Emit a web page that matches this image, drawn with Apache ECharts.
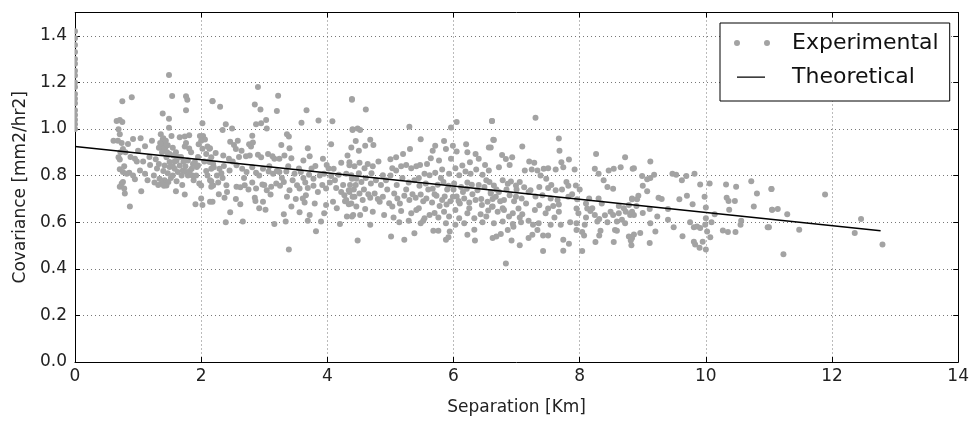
<!DOCTYPE html>
<html><head><meta charset="utf-8">
<script src="https://cdn.jsdelivr.net/npm/echarts@6/dist/echarts.min.js"></script>
<style>html,body{margin:0;padding:0;background:#fff}#c{width:972px;height:421px}</style>
</head><body><div id="c"></div>
<script>
// Axis ranges / ticks
const xRange = [0, 14], xStep = 2;
const yRange = [0, 1.5], yStep = 0.2;
const seriesNames = ['Experimental', 'Theoretical'];

// Experimental covariance at zero separation
const expAtZero = [[0,1.42],[0,1.39],[0,1.36],[0,1.33],[0,1.30],[0,1.28],[0,1.25],[0,1.23],[0,1.20],[0,1.18],[0,1.15],[0,1.13],[0,1.11],[0,1.08],[0,1.06],[0,1.04],[0,1.02],[0,1.00]];

// Experimental, separation ~0.6-2.2 km
const expBand1 = [[1.49,1.232],[0.75,1.119],[0.90,1.136],[1.54,1.142],[1.76,1.141],[1.78,1.126],[1.76,1.081],[1.39,1.067],[1.49,1.044],[1.49,1.005],[2.18,1.119],[2.02,1.025],
[0.66,1.034],[0.71,1.039],[0.75,1.03],[0.69,0.999],[0.71,0.978],[0.61,0.95],[0.74,0.94],[0.84,0.936],[0.92,0.957],[1.04,0.96],[1.11,0.926],[1.00,0.907],[0.76,0.914],
[0.69,0.879],[0.71,0.869],[0.95,0.872],[0.98,0.86],[1.19,0.846],[0.71,0.827],[0.76,0.815],[0.82,0.808],[0.86,0.812],[1.03,0.822],[1.11,0.808],[0.95,0.784],
[0.74,0.766],[0.76,0.773],[0.71,0.752],[0.79,0.723],[0.78,0.745],[1.05,0.733],[0.87,0.667],
[1.36,0.977],[1.39,0.955],[1.35,0.94],[1.41,0.935],[1.37,0.925],[1.43,0.92],[1.39,0.915],[1.53,0.97],[1.66,0.965],[1.74,0.968],[1.81,0.973],
[1.74,0.925],[1.81,0.916],[1.76,0.94],[1.50,0.893],[1.45,0.879],[1.56,0.886],[1.61,0.865],[1.50,0.858],
[1.42,0.843],[1.50,0.837],[1.58,0.829],[1.66,0.843],[1.63,0.815],[1.71,0.822],[1.69,0.80],[1.79,0.865],[1.87,0.85],[1.85,0.829],[1.93,0.837],
[1.34,0.787],[1.42,0.78],[1.37,0.766],[1.48,0.773],[1.45,0.758],[1.41,0.756],[1.61,0.776],[1.60,0.733],[1.74,0.719],[1.79,0.80],[1.76,0.815],
[1.90,0.858],[1.95,0.843],[1.97,0.766],[2.00,0.758],[1.91,0.677],[2.02,0.674],[2.14,0.688],[2.00,0.702],
[1.98,0.97],[2.03,0.97],[2.06,0.955],[2.00,0.95],[1.96,0.935],[2.10,0.925],[2.02,0.915],[2.13,0.915],[2.08,0.893],[2.16,0.879],[2.12,0.86],[2.19,0.85],[2.16,0.829],
[2.14,0.78],[2.16,0.752],[2.19,0.758],[1.25,0.80],[1.28,0.87],[1.22,0.95],[1.30,0.83],[1.32,0.76],[1.18,0.88],[1.55,0.80],[1.52,0.79],[1.58,0.86],[1.68,0.88],[1.84,0.90],[1.88,0.78],[1.70,0.76],[1.26,0.77],
[1.40,0.96],[1.44,0.95],[1.47,0.93],[1.33,0.92],[1.38,0.90],[1.46,0.90],[1.55,0.92],[1.60,0.90],[1.64,0.88],[1.72,0.86],[1.75,0.84],[1.82,0.82],[1.86,0.80],[1.92,0.80],[1.55,0.84],
[1.47,0.81],[1.40,0.82],[1.33,0.85],[1.95,0.88],[2.05,0.86],[2.08,0.82],[2.10,0.80],[0.78,0.84],[0.80,0.90],[0.88,0.88],[1.08,0.86],[1.15,0.78],[0.92,0.80],[0.68,0.95],[0.72,0.90]];

// Experimental, separation ~2.1-4.4 km
const expBand2 = [[2.90,1.18],[3.22,1.143],[2.18,1.12],[2.30,1.095],[2.85,1.105],[2.94,1.084],[3.20,1.077],[3.67,1.081],[4.39,1.129],[2.39,1.02],[2.34,0.996],[2.49,1.002],
[2.87,1.02],[2.95,1.025],[3.03,1.039],[3.04,1.002],[3.59,1.027],[3.86,1.037],[4.08,1.033],[3.36,0.978],[3.39,0.968],[2.81,0.971],[3.27,0.931],[3.40,0.917],[3.69,0.917],[4.06,0.935],[4.40,0.996],
[2.14,0.917],[2.23,0.897],[2.46,0.945],[2.52,0.931],[2.58,0.95],[2.55,0.914],[2.64,0.907],[2.76,0.935],[2.79,0.925],[2.82,0.942],[2.71,0.883],[2.77,0.886],[2.90,0.889],[2.95,0.879],
[3.06,0.893],[3.13,0.883],[3.16,0.872],[3.24,0.872],[3.32,0.886],[3.43,0.875],[3.62,0.865],[3.72,0.883],[3.81,0.841],[3.93,0.872],[3.99,0.846],[4.10,0.829],[4.22,0.855],[4.32,0.886],[4.35,0.844],
[2.35,0.886],[2.44,0.872],[2.14,0.858],[2.20,0.836],[2.29,0.829],[2.36,0.841],[2.45,0.822],[2.56,0.844],[2.65,0.829],[2.72,0.815],[2.81,0.836],[2.87,0.812],[2.98,0.829],[3.07,0.818],
[3.14,0.808],[3.24,0.815],[3.35,0.818],[3.48,0.808],[3.58,0.815],[3.71,0.804],[3.78,0.787],[3.95,0.808],[4.06,0.798],[4.18,0.804],[4.30,0.808],[4.39,0.787],
[2.16,0.776],[2.27,0.77],[2.34,0.79],[2.40,0.759],[2.41,0.73],[2.56,0.752],[2.69,0.759],[2.81,0.77],[2.87,0.745],[2.97,0.762],[3.04,0.737],[3.11,0.752],[3.19,0.766],[3.25,0.756],[3.31,0.773],
[3.40,0.737],[3.52,0.759],[3.56,0.745],[3.65,0.77],[3.69,0.747],[3.78,0.756],[3.85,0.73],[3.98,0.745],[4.04,0.77],[4.14,0.747],[4.22,0.73],[4.27,0.716],[4.34,0.737],[4.40,0.709],
[2.18,0.688],[2.37,0.705],[2.46,0.643],[2.62,0.677],[2.85,0.705],[2.86,0.691],[2.98,0.688],[3.02,0.653],[3.10,0.719],[3.36,0.709],[3.43,0.667],[3.61,0.702],[3.64,0.685],[3.66,0.716],
[3.56,0.643],[3.72,0.631],[3.95,0.638],[3.98,0.674],[4.09,0.688],[4.30,0.695],[4.34,0.677],[4.31,0.624],[4.41,0.631],
[2.39,0.60],[2.66,0.603],[3.16,0.592],[3.31,0.634],[3.34,0.603],[3.69,0.606],[3.82,0.561],[3.90,0.603],[4.20,0.592],[3.39,0.483],
[2.25,0.80],[2.32,0.81],[2.50,0.86],[2.60,0.88],[2.68,0.79],[2.75,0.74],[2.92,0.80],[3.00,0.76],[3.08,0.84],[3.20,0.82],[3.28,0.79],[3.38,0.84],[3.45,0.78],[3.55,0.83],[3.62,0.79],
[3.75,0.83],[3.88,0.80],[3.92,0.76],[4.02,0.83],[4.12,0.78],[4.25,0.76],[4.28,0.69],[4.36,0.76],[4.42,0.74],[4.38,0.68],[2.55,0.70],[2.92,0.66],[3.50,0.70],[3.80,0.68],[4.15,0.66],[2.28,0.72],[2.62,0.75]];

// Experimental, separation ~4.4-6.6 km
const expBand3 = [[4.39,1.126],[4.61,1.084],[4.40,0.999],[4.48,1.002],[4.52,0.996],[5.30,1.01],[6.05,1.03],[5.96,1.006],[6.61,1.034],
[4.45,0.949],[4.60,0.928],[4.68,0.954],[4.73,0.931],[4.38,0.921],[4.50,0.907],[5.48,0.956],[5.31,0.914],[5.20,0.893],[5.09,0.879],[5.71,0.928],[5.67,0.907],[5.85,0.949],[5.88,0.914],
[5.99,0.928],[6.05,0.903],[6.20,0.935],[6.22,0.90],[6.35,0.893],[6.40,0.872],[6.56,0.921],[6.63,0.954],[6.50,0.846],[5.64,0.874],[5.77,0.865],[5.96,0.872],[6.14,0.843],[6.26,0.857],
[4.35,0.857],[4.43,0.84],[4.51,0.855],[4.59,0.832],[4.64,0.85],[4.72,0.84],[4.81,0.86],[5.03,0.832],[5.09,0.822],[5.17,0.84],[5.25,0.846],[5.33,0.832],[5.41,0.84],[5.47,0.846],
[5.54,0.808],[5.62,0.801],[5.71,0.812],[5.82,0.826],[5.93,0.808],[6.03,0.832],[6.09,0.801],[6.19,0.818],[6.27,0.808],[6.36,0.826],[6.46,0.804],[6.56,0.822],
[4.38,0.801],[4.46,0.787],[4.54,0.773],[4.61,0.79],[4.69,0.766],[4.77,0.78],[4.88,0.801],[4.93,0.78],[5.19,0.79],[5.29,0.77],[5.38,0.78],[5.46,0.756],[5.56,0.766],[5.67,0.744],
[5.75,0.761],[5.84,0.773],[5.92,0.756],[6.01,0.766],[6.12,0.751],[6.21,0.744],[6.29,0.761],[6.38,0.737],[6.49,0.751],[6.59,0.73],
[4.35,0.73],[4.43,0.709],[4.51,0.723],[4.56,0.695],[4.68,0.705],[4.75,0.723],[4.83,0.688],[4.88,0.709],[4.98,0.681],[5.06,0.723],[5.11,0.702],[5.22,0.713],[5.30,0.695],[5.40,0.705],
[5.48,0.719],[5.57,0.702],[5.66,0.685],[5.73,0.713],[5.82,0.695],[5.89,0.676],[5.99,0.709],[6.08,0.691],[6.17,0.702],[6.25,0.685],[6.35,0.695],[6.45,0.674],[6.54,0.688],[6.62,0.667],
[4.46,0.667],[4.60,0.657],[4.72,0.645],[4.90,0.631],[5.03,0.667],[5.17,0.648],[5.33,0.638],[5.41,0.652],[5.54,0.617],[5.62,0.631],[5.76,0.62],[5.85,0.645],[5.93,0.624],[6.03,0.652],
[6.09,0.617],[6.22,0.638],[6.33,0.617],[6.43,0.634],[6.52,0.624],[4.39,0.624],[4.52,0.631],[4.68,0.589],[5.14,0.60],[5.29,0.606],[5.38,0.553],[5.48,0.596],[5.52,0.606],[5.68,0.563],
[5.76,0.563],[5.88,0.596],[5.94,0.56],[6.03,0.589],[6.17,0.596],[6.22,0.546],[6.33,0.568],[6.46,0.60],[4.48,0.521],[5.01,0.539],[5.22,0.525],[5.88,0.525],[5.92,0.535],[6.34,0.521],[6.62,0.532],
[4.45,0.76],[4.50,0.81],[4.58,0.74],[4.65,0.72],[4.70,0.81],[4.85,0.76],[4.95,0.74],[5.00,0.80],[5.10,0.76],[5.15,0.68],[5.25,0.74],[5.35,0.72],[5.45,0.79],[5.52,0.69],[5.60,0.74],
[5.70,0.72],[5.78,0.67],[5.80,0.79],[5.86,0.71],[5.90,0.74],[5.95,0.69],[6.00,0.74],[6.05,0.71],[6.10,0.68],[6.15,0.73],[6.22,0.77],[6.30,0.72],[6.40,0.76],[6.44,0.70],[6.52,0.78],
[5.58,0.85],[5.00,0.87],[4.80,0.70],[5.05,0.62],[5.70,0.64],[6.25,0.66],[6.55,0.65],[5.45,0.66]];

// Experimental, separation ~6.6-8.9 km
const expBand4 = [[6.61,1.034],[7.30,1.048],[6.64,0.953],[6.59,0.921],[7.09,0.925],[7.67,0.959],[7.68,0.907],[8.26,0.893],[8.72,0.879],[6.77,0.888],[6.83,0.871],[6.93,0.879],
[6.89,0.846],[6.72,0.836],[7.20,0.86],[7.28,0.855],[7.13,0.822],[7.24,0.826],[7.33,0.822],[7.43,0.829],[7.50,0.832],[7.62,0.826],[7.71,0.857],[7.83,0.869],[7.74,0.836],[7.92,0.826],
[8.24,0.829],[8.30,0.808],[8.46,0.822],[8.54,0.829],[8.65,0.836],[8.84,0.829],
[6.57,0.772],[6.64,0.758],[6.78,0.78],[6.86,0.765],[6.91,0.775],[6.99,0.758],[7.05,0.772],[7.22,0.737],[7.36,0.751],[7.47,0.787],[7.50,0.747],[7.62,0.737],[7.79,0.772],[7.82,0.756],
[7.94,0.758],[8.38,0.78],[8.44,0.751],[8.53,0.744],[6.59,0.723],[6.67,0.709],[6.72,0.73],[6.80,0.695],[6.89,0.716],[6.99,0.709],[7.08,0.702],[7.19,0.73],[7.41,0.716],[7.54,0.702],
[7.65,0.695],[7.67,0.676],[7.82,0.709],[7.96,0.699],[8.15,0.702],[8.30,0.702],[8.83,0.702],
[6.61,0.666],[6.70,0.645],[6.80,0.652],[6.88,0.624],[6.94,0.638],[7.03,0.659],[7.09,0.634],[7.29,0.652],[7.36,0.673],[7.46,0.638],[7.50,0.659],[7.67,0.645],[7.95,0.659],[7.98,0.638],
[8.12,0.659],[8.17,0.648],[8.24,0.631],[8.31,0.614],[8.49,0.645],[8.53,0.631],[8.62,0.638],[8.67,0.61],[8.73,0.645],[8.80,0.631],
[6.64,0.596],[6.78,0.603],[6.94,0.592],[7.07,0.60],[7.19,0.606],[7.26,0.589],[7.35,0.596],[7.54,0.589],[7.70,0.589],[7.95,0.596],[8.08,0.589],[8.28,0.603],[8.44,0.60],[8.56,0.567],
[8.59,0.603],[8.72,0.596],[6.68,0.539],[6.75,0.549],[6.86,0.567],[6.92,0.521],[7.05,0.501],[7.19,0.532],[7.25,0.546],[7.33,0.567],[7.42,0.543],[7.50,0.543],[7.74,0.525],[7.83,0.507],
[7.74,0.478],[7.95,0.567],[8.04,0.558],[8.07,0.543],[8.04,0.476],[8.25,0.515],[8.31,0.543],[8.33,0.563],[8.54,0.515],[8.59,0.563],[8.78,0.539],[7.42,0.476],[6.83,0.423],
[6.62,0.70],[6.68,0.74],[6.74,0.69],[6.78,0.66],[6.84,0.74],[6.96,0.69],[7.00,0.74],[7.12,0.75],[7.15,0.68],[7.30,0.71],[7.38,0.80],[7.55,0.76],[7.58,0.67],[7.72,0.74],[7.88,0.72],
[8.00,0.74],[8.10,0.68],[8.20,0.66],[8.35,0.68],[8.40,0.63],[8.62,0.67],[8.70,0.66],[7.05,0.62],[7.60,0.62],[8.10,0.62],[6.95,0.58],[7.85,0.60]];

// Experimental, separation ~8.8-11 km
const expBand5 = [[9.12,0.861],[8.86,0.832],[8.99,0.798],[9.07,0.784],[9.12,0.79],[9.18,0.804],[9.00,0.756],[9.07,0.733],[9.47,0.808],[9.53,0.804],[9.62,0.78],[9.69,0.798],
[9.82,0.808],[9.91,0.762],[10.06,0.766],[10.32,0.762],[10.48,0.752],[10.72,0.776],[10.81,0.723],[11.04,0.742],[8.83,0.699],[8.93,0.713],[8.91,0.699],[9.25,0.705],[9.58,0.699],
[9.70,0.713],[9.79,0.677],[9.98,0.709],[10.33,0.705],[10.36,0.691],[10.46,0.691],[9.11,0.657],[9.40,0.657],[10.00,0.663],[10.37,0.653],[10.76,0.667],[11.05,0.653],
[8.81,0.638],[8.86,0.631],[8.83,0.645],[8.78,0.674],[9.23,0.624],[9.40,0.61],[10.00,0.617],[10.09,0.60],[10.14,0.634],[10.56,0.606],[10.55,0.589],[9.12,0.596],[9.49,0.578],
[9.81,0.578],[9.86,0.582],[9.91,0.575],[9.99,0.589],[10.98,0.578],[8.96,0.554],[8.86,0.547],[8.83,0.532],[8.81,0.521],[9.11,0.511],[10.27,0.564],[10.35,0.558],[10.47,0.558],
[9.63,0.54],[9.81,0.516],[9.83,0.504],[9.90,0.49],[9.95,0.516],[10.00,0.483],[10.07,0.535],[8.82,0.501],
[8.90,0.67],[9.00,0.64],[9.30,0.70],[9.75,0.60],[10.02,0.56],[9.20,0.56]];

// Experimental, separation beyond 11 km
const expBand6 = [[11.04,0.742],[11.89,0.719],[11.05,0.653],[11.14,0.657],[11.29,0.634],[11.00,0.578],[11.48,0.568],[11.23,0.462],[12.46,0.614],[12.36,0.554],[12.80,0.504]];

// Theoretical model
const theoryX = [0, 12.77];
const theoryY = [0.925, 0.563];

const experimental = [].concat(expAtZero, expBand1, expBand2, expBand3, expBand4, expBand5, expBand6);
const theoretical = theoryX.map((x, i) => [x, theoryY[i]]);

const FONT = 'DejaVu Sans';
const chart = echarts.init(document.getElementById('c'), null, {renderer: 'canvas'});
const tickStyle = {show: true, inside: true, length: 5, lineStyle: {color: '#000', width: 1}};
const dotted = {show: true, lineStyle: {color: '#777', width: 1, type: [1, 3]}};

chart.setOption({
  animation: false,
  backgroundColor: '#fff',
  grid: {left: 75, top: 12.5, width: 885.5, height: 352.7},
  graphic: [{
    // matplotlib clips markers at the axes edge; mask the part of the x=0 markers left of the axis
    type: 'rect', z: 100, silent: true,
    shape: {x: 69.5, y: 10, width: 5, height: 140},
    style: {fill: '#fff'}
  }],
  legend: {
    left: 720, top: 23,
    orient: 'vertical',
    backgroundColor: '#fff',
    borderColor: '#000', borderWidth: 1, borderRadius: 0,
    padding: [9, 11, 13, 14],
    itemWidth: 36, itemHeight: 18, itemGap: 12,
    textStyle: {fontFamily: FONT, fontSize: 22, color: '#111', lineHeight: 18, padding: [0, 0, 0, 17]},
    data: [
      {name: seriesNames[0], icon: 'path://M0,9a3,3 0 1,0 6,0a3,3 0 1,0 -6,0z M30,9a3,3 0 1,0 6,0a3,3 0 1,0 -6,0z M0,0h0.01v0.01h-0.01z M35.99,17.99h0.01v0.01h-0.01z'},
      {name: seriesNames[1], icon: 'path://M0,0h0.01v0.01h-0.01z M3,8.4h28v1.4h-28z M35.99,17.99h0.01v0.01h-0.01z'}
    ]
  },
  xAxis: [{
    type: 'value', min: xRange[0], max: xRange[1], interval: xStep, position: 'bottom',
    name: 'Separation [Km]', nameLocation: 'middle', nameGap: 37,
    nameTextStyle: {fontFamily: FONT, fontSize: 17, color: '#222'},
    axisLine: {show: true, onZero: false, lineStyle: {color: '#000', width: 1}},
    axisTick: tickStyle,
    axisLabel: {fontFamily: FONT, fontSize: 17, color: '#222', margin: 6},
    splitLine: dotted
  }, {
    type: 'value', min: xRange[0], max: xRange[1], interval: xStep, position: 'top',
    axisLine: {show: true, onZero: false, lineStyle: {color: '#000', width: 1}},
    axisTick: tickStyle, axisLabel: {show: false}, splitLine: {show: false}
  }],
  yAxis: [{
    type: 'value', min: yRange[0], max: yRange[1], interval: yStep, position: 'left',
    name: 'Covariance [mm2/hr2]', nameLocation: 'middle', nameGap: 46,
    nameTextStyle: {fontFamily: FONT, fontSize: 17, color: '#222'},
    axisLine: {show: true, onZero: false, lineStyle: {color: '#000', width: 1}},
    axisTick: tickStyle,
    axisLabel: {fontFamily: FONT, fontSize: 17, color: '#222', margin: 8, showMaxLabel: false,
      formatter: v => v.toFixed(1)},
    splitLine: dotted
  }, {
    type: 'value', min: yRange[0], max: yRange[1], interval: yStep, position: 'right',
    axisLine: {show: true, onZero: false, lineStyle: {color: '#000', width: 1}},
    axisTick: tickStyle, axisLabel: {show: false}, splitLine: {show: false}
  }],
  series: [{
    name: seriesNames[0], type: 'scatter', data: experimental,
    symbol: 'circle', symbolSize: 6,
    itemStyle: {color: '#a3a3a3', opacity: 1},
    emphasis: {disabled: true}
  }, {
    name: seriesNames[1], type: 'line', data: theoretical,
    showSymbol: false, symbol: 'none',
    itemStyle: {color: '#000'},
    lineStyle: {color: '#000', width: 1.4},
    z: 3
  }]
});
</script></body></html>
